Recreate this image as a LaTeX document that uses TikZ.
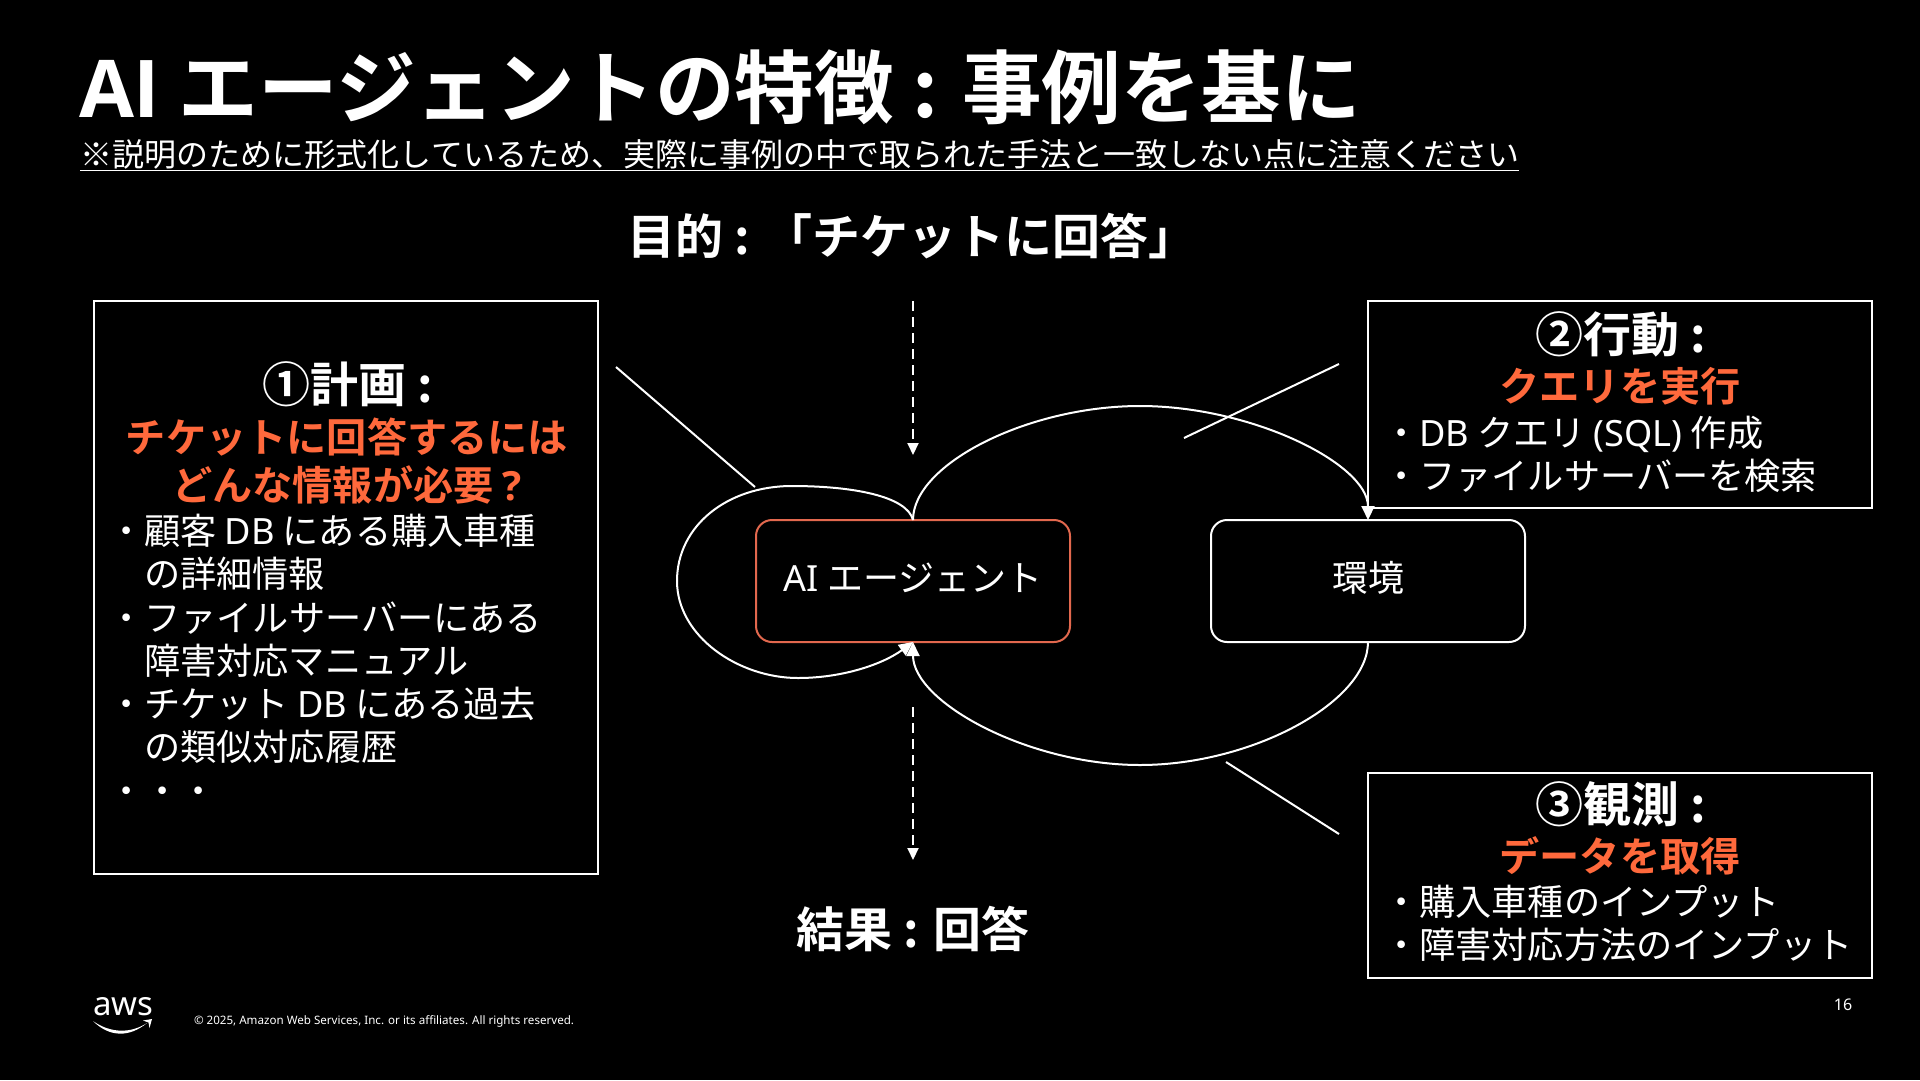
\documentclass[tikz,border=0pt]{standalone}
\usepackage{fontspec}
\setmainfont{Noto Sans CJK JP}[BoldFont={Noto Sans CJK JP Bold}]
\newfontfamily\latinfont{Noto Sans}
\newfontfamily\latinbold{Open Sans}
\usetikzlibrary{arrows.meta,positioning}
\definecolor{awsOrange}{RGB}{255, 105, 60}
\definecolor{agentRed}{RGB}{226, 104, 78}
\newcommand{\fsize}[2]{\fontsize{#1}{#2}\selectfont}
\begin{document}
\begin{tikzpicture}[
  x=1pt, y=-1pt,
  every node/.style={text=white, inner sep=0pt, outer sep=0pt},
  panel/.style={draw=white, line width=2pt, anchor=north west},
  block/.style={draw=white, line width=2pt, rounded corners=16pt, minimum width=314pt,
                minimum height=122pt, text height=32pt, text depth=11pt, font=\fsize{36}{40}},
  heading/.style={font=\fsize{48}{54}\bfseries},
  goal/.style={text=awsOrange, align=center, font=\fsize{40.2}{48}\bfseries},
  items/.style={align=left, anchor=north west, font=\fsize{36.2}{43.3}},
  flow/.style={draw=white, line width=2pt, -{Triangle[length=14pt, width=13pt]}},
  link/.style={draw=white, line width=2pt},
  inout/.style={draw=white, line width=2pt, dashed, dash pattern=on 10pt off 6pt,
                -{Triangle[length=12pt, width=11pt]}}
]
\fill[black] (0,0) rectangle (1920,1080);
\node[anchor=base west, font=\fsize{79.7}{90}\bfseries] (title) at (79,117) {{\latinbold AI} エージェントの特徴 : 事例を基に};
\node[anchor=base west, font=\fsize{32}{36}] (note) at (80,166) {\underline{※説明のために形式化しているため、実際に事例の中で取られた手法と一致しない点に注意ください}};
\node[heading] (purpose) at (912,236) {目的 : 「チケットに回答」};
\node[heading] (result) at (913,929) {結果 : 回答};

\node[panel, minimum width=504pt, minimum height=573pt] (planbox) at (94,301) {};
\node[heading] (planhead) at (348,384) {①計画 :};
\node[goal] (plangoal) at (347,461) {チケットに回答するには\\どんな情報が必要 {\latinbold ?}};
\node[items] (planitems) at (108,514) {・顧客 {\latinfont DB} にある購入車種\\\hspace*{36pt}の詳細情報\\・ファイルサーバーにある\\\hspace*{36pt}障害対応マニュアル\\・チケット {\latinfont DB} にある過去\\\hspace*{36pt}の類似対応履歴\\・・・};

\node[panel, minimum width=504pt, minimum height=207pt] (actbox) at (1368,301) {};
\node[heading] (acthead) at (1621,334) {②行動 :};
\node[goal] (actgoal) at (1620,386) {クエリを実行};
\node[items] (actitems) at (1383,416) {・{\latinfont DB} クエリ {\latinfont (SQL)} 作成\\・ファイルサーバーを検索};

\node[panel, minimum width=504pt, minimum height=205pt] (obsbox) at (1368,773) {};
\node[heading] (obshead) at (1621,804) {③観測 :};
\node[goal] (obsgoal) at (1620,856) {データを取得};
\node[items] (obsitems) at (1383,885) {・購入車種のインプット\\・障害対応方法のインプット};

\node[block, draw=agentRed] (agent) at (913,581) {{\latinfont AI} エージェント};
\node[block] (env) at (1368,581) {環境};

\coordinate (looptop) at (1140,406);
\coordinate (loopbottom) at (1140,765);
\coordinate (selftop) at (792,486);
\coordinate (selfleft) at (677,581);
\coordinate (selfbottom) at (798,678);
\draw[link] (agent.north) .. controls +(0,-56) and +(-112,0) .. (looptop);
\draw[flow] (looptop) .. controls +(112,0) and +(0,-56) .. (env.north);
\draw[link] (env.south) .. controls +(0,60) and +(112,0) .. (loopbottom);
\draw[flow] (loopbottom) .. controls +(-112,0) and +(0,60) .. (agent.south);
\draw[link] (agent.north) .. controls +(-6,-24) and +(60,0) .. (selftop);
\draw[link] (selftop) .. controls +(-65,0) and +(0,-55) .. (selfleft);
\draw[link] (selfleft) .. controls +(0,55) and +(-60,0) .. (selfbottom);
\draw[flow] (selfbottom) .. controls +(45,0) and +(-30,22) .. (agent.south);

\coordinate (plantip) at (616,367);
\coordinate (planend) at (755,487);
\coordinate (acttip) at (1339,364);
\coordinate (actend) at (1184,438);
\coordinate (obstip) at (1339,834);
\coordinate (obsend) at (1226,762);
\draw[link] (plantip) -- (planend);
\draw[link] (acttip) -- (actend);
\draw[link] (obstip) -- (obsend);

\coordinate (instart) at (913,301);
\coordinate (inend) at (913,455);
\coordinate (outstart) at (913,707);
\coordinate (outend) at (913,860);
\draw[inout] (instart) -- (inend);
\draw[inout] (outstart) -- (outend);

\node[anchor=base west, font=\latinfont\fsize{33}{38}] (awstext) at (93,1015) {aws};
\coordinate (swooshstart) at (93,1021);
\coordinate (swooshend) at (147,1023);
\fill[white] (swooshstart) .. controls (110,1033) and (130,1034) .. (swooshend)
  .. controls (130,1037) and (110,1038) .. (swooshstart);
\fill[white] (143,1020.5) -- (152,1019) -- (149.5,1028) -- (148.5,1022.5) -- cycle;
\node[anchor=west, font=\latinfont\fsize{11.6}{14}] (copyright) at (194,1021) {© 2025, Amazon Web Services, Inc. or its affiliates. All rights reserved.};
\node[font=\latinfont\fsize{16}{18}] (pagenum) at (1843,1005) {16};
\end{tikzpicture}
\end{document}
